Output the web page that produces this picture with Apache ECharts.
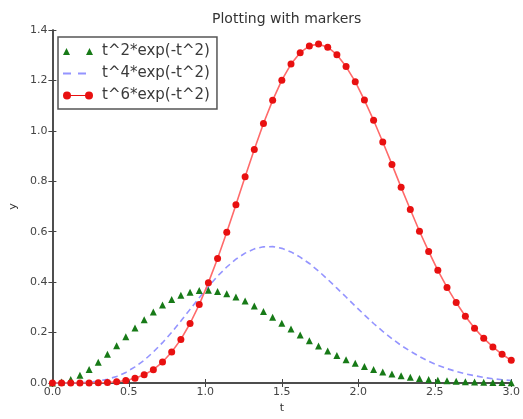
<!DOCTYPE html>
<html><head><meta charset="utf-8">
<script src="https://cdn.jsdelivr.net/npm/echarts@6/dist/echarts.min.js"></script>
<style>html,body{margin:0;padding:0;background:#fff}#c{width:523px;height:419px}</style>
</head><body><div id="c"></div>
<script>
const tValues = [0,0.06,0.12,0.18,0.24,0.30,0.36,0.42,0.48,0.54,0.60,0.66,0.72,0.78,0.84,0.90,0.96,1.02,1.08,1.14,1.20,1.26,1.32,1.38,1.44,1.50,1.56,1.62,1.68,1.74,1.80,1.86,1.92,1.98,2.04,2.10,2.16,2.22,2.28,2.34,2.40,2.46,2.52,2.58,2.64,2.70,2.76,2.82,2.88,2.94,3.00];
const t2Values = [0,0.004,0.014,0.031,0.054,0.082,0.114,0.148,0.183,0.218,0.251,0.282,0.309,0.331,0.348,0.360,0.367,0.368,0.363,0.354,0.341,0.325,0.305,0.284,0.261,0.237,0.214,0.190,0.168,0.147,0.127,0.109,0.092,0.078,0.065,0.054,0.044,0.036,0.029,0.023,0.018,0.014,0.011,0.009,0.007,0.005,0.004,0.003,0.002,0.002,0.001];
const t4Values = [0,0.000,0.000,0.001,0.003,0.007,0.015,0.026,0.042,0.064,0.090,0.123,0.160,0.201,0.246,0.292,0.338,0.382,0.424,0.460,0.491,0.515,0.532,0.540,0.541,0.534,0.520,0.499,0.474,0.444,0.411,0.376,0.341,0.305,0.270,0.236,0.205,0.176,0.149,0.126,0.105,0.086,0.070,0.057,0.046,0.036,0.029,0.022,0.017,0.013,0.010];
const t6Values = [0,0.000,0.000,0.000,0.000,0.001,0.002,0.005,0.010,0.019,0.033,0.053,0.083,0.123,0.173,0.236,0.311,0.398,0.494,0.598,0.707,0.818,0.926,1.029,1.121,1.201,1.265,1.310,1.337,1.344,1.332,1.302,1.255,1.195,1.122,1.042,0.956,0.867,0.776,0.688,0.602,0.522,0.447,0.379,0.319,0.265,0.217,0.177,0.143,0.114,0.090];
const xTicks = ['0.0','0.5','1.0','1.5','2.0','2.5','3.0'];
const seriesNames = ['t^2*exp(-t^2)','t^4*exp(-t^2)','t^6*exp(-t^2)'];

const pairs = ys => tValues.map((t,i)=>[t, ys[i]]);
const FONT = 'DejaVu Sans';
const chart = echarts.init(document.getElementById('c'), null, {renderer:'canvas'});
const axCommon = {
  axisLine:{show:true, lineStyle:{color:'#444', width:1.5}},
  axisTick:{show:true, inside:true, length:4, lineStyle:{color:'#444'}},
  splitLine:{show:false},
};
const GREEN = '#177a17', BLUE = '#9494ff', RED = '#e81010';
chart.setOption({
  animation:false,
  textStyle:{fontFamily:FONT},
  title:{text:'Plotting with markers', left:207, top:7, textStyle:{fontFamily:FONT, fontSize:14, fontWeight:'normal', color:'#333'}},
  grid:{left:50, right:5, top:30, bottom:28, containLabel:false},
  legend:{
    left:58, top:37, orient:'vertical', itemGap:7, itemWidth:30, itemHeight:14,
    borderColor:'#555', borderWidth:1.5, borderRadius:0, padding:[7,7,6,5], backgroundColor:'#fff',
    textStyle:{fontFamily:FONT, fontSize:15, color:'#3a3a3a', padding:[0,0,0,4]},
    itemStyle:{borderWidth:0},
    data:[
      {name:seriesNames[0], icon:'path://M0,10L3.5,3L7,10Z M23,10L26.5,3L30,10Z'},
      {name:seriesNames[1], icon:'path://M0,6h8v2h-8z M15,6h8v2h-8z M29.9,6h0.1v0.1h-0.1z'},
      {name:seriesNames[2], icon:'path://M0,4A4,4 0 1,1 8,4A4,4 0 1,1 0,4Z M22,4A4,4 0 1,1 30,4A4,4 0 1,1 22,4Z M7,3.4h16v1.2h-16z'}
    ]
  },
  xAxis:[
    Object.assign({type:'value', min:0, max:3, interval:0.5, position:'bottom',
      name:'t', nameLocation:'middle', nameGap:20, nameTextStyle:{fontFamily:FONT, fontSize:11, color:'#333'},
      axisLabel:{fontFamily:FONT, fontSize:11, color:'#444', margin:4, formatter:(v)=>xTicks[Math.round(v/0.5)]}}, axCommon),
    Object.assign({type:'value', min:0, max:3, interval:0.5, position:'top', axisLabel:{show:false}}, axCommon)
  ],
  yAxis:[
    Object.assign({type:'value', min:0, max:1.4, interval:0.2, position:'left',
      name:'y', nameLocation:'middle', nameGap:32, nameTextStyle:{fontFamily:FONT, fontSize:11, color:'#333'},
      axisLabel:{fontFamily:FONT, fontSize:11, color:'#444', margin:5, formatter:(v)=>v.toFixed(1)}}, axCommon),
    Object.assign({type:'value', min:0, max:1.4, interval:0.2, position:'right', axisLabel:{show:false}}, axCommon)
  ],
  series:[
    {name:seriesNames[0], type:'line', data:pairs(t2Values), symbol:'triangle', symbolSize:7,
     lineStyle:{width:0}, itemStyle:{color:GREEN}, z:3},
    {name:seriesNames[1], type:'line', data:pairs(t4Values), symbol:'none',
     lineStyle:{width:1.6, type:[6,4], color:BLUE}, itemStyle:{color:BLUE}, z:2},
    {name:seriesNames[2], type:'line', data:pairs(t6Values), symbol:'circle', symbolSize:7,
     lineStyle:{width:1.6, color:'#ff6a6a'}, itemStyle:{color:RED}, z:4}
  ]
});
</script></body></html>
